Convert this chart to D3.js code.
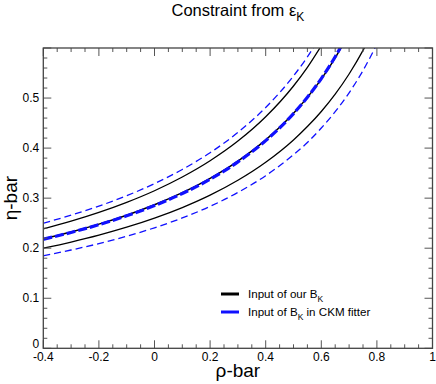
<!DOCTYPE html>
<html><head><meta charset="utf-8">
<script src="https://cdn.jsdelivr.net/npm/d3@7"></script>
<style>body{margin:0;background:#fff}svg{display:block;font-family:"Liberation Sans",Arial,sans-serif}</style>
</head><body>
<svg id="c" width="436" height="384"></svg>
<script>
const rho = [-0.4,-0.3,-0.2,-0.1,0,0.1,0.2,0.3,0.4,0.5,0.55,0.6,0.65,0.7,0.75,0.8];
const blackCenter = [0.2186,0.2324,0.2481,0.2660,0.2867,0.3109,0.3395,0.3740,0.4163,0.4694,0.5013,0.5379,0.5803,0.6299];
const blackUpper  = [0.2386,0.2540,0.2715,0.2916,0.3148,0.3422,0.3747,0.4140,0.4626,0.5241,0.5614,0.6044];
const blackLower  = [0.2000,0.2123,0.2261,0.2419,0.2601,0.2812,0.3060,0.3357,0.3717,0.4163,0.4430,0.4732,0.5079,0.5481,0.5952,0.6511];
const blueCenter  = [0.2180,0.2315,0.2470,0.2648,0.2852,0.3092,0.3378,0.3724,0.4150,0.4690,0.5015,0.5390,0.5825,0.6330];
const blueUpper   = [0.2500,0.2660,0.2841,0.3049,0.3290,0.3573,0.3908,0.4313,0.4812,0.5441,0.5822,0.6260];
const blueLower   = [0.1850,0.1964,0.2092,0.2239,0.2408,0.2605,0.2836,0.3113,0.3449,0.3867,0.4111,0.4401,0.4727,0.5105,0.5549,0.6077];
const xTicks = [-0.4,-0.2,0,0.2,0.4,0.6,0.8,1];
const yTicks = [0,0.1,0.2,0.3,0.4,0.5];

const svg = d3.select("#c");
const L=43.3,R=432.5,T=48,B=348.3;
const x = d3.scaleLinear().domain([-0.4,1]).range([L,R]);
const y = d3.scaleLinear().domain([0,0.6]).range([B,T]);

svg.append("defs").append("clipPath").attr("id","clip")
  .append("rect").attr("x",L).attr("y",T).attr("width",R-L).attr("height",B-T);

const line = d3.line().x(d=>x(d[0])).y(d=>y(d[1])).curve(d3.curveMonotoneX);
const pts = arr => arr.map((v,i)=>[rho[i],v]);
const g = svg.append("g").attr("clip-path","url(#clip)");
const series = [
  {d:blueUpper,c:"#1010ff",w:1.3,dash:"7,4"},
  {d:blueLower,c:"#1010ff",w:1.3,dash:"7,4"},
  {d:blackUpper,c:"#000",w:1.3,dash:null},
  {d:blackLower,c:"#000",w:1.3,dash:null},
  {d:blackCenter,c:"#000",w:1.5,dash:null},
  {d:blueCenter,c:"#1010ff",w:3.2,dash:"9,3"}
];
series.forEach(s=>{
  g.append("path").attr("d",line(pts(s.d))).attr("fill","none")
   .attr("stroke",s.c).attr("stroke-width",s.w).attr("stroke-dasharray",s.dash);
});

const tc="#555";
function ticksX(yPos,dir){
  d3.range(0,29).forEach(i=>{
    const v=-0.4+i*0.05; const major = i%4===0;
    const len = major?8:4;
    svg.append("line").attr("x1",x(v)).attr("x2",x(v)).attr("y1",yPos).attr("y2",yPos+dir*len)
      .attr("stroke",tc).attr("stroke-width",1);
  });
}
function ticksY(xPos,dir){
  d3.range(0,31).forEach(i=>{
    const v=i*0.02; const major = i%5===0;
    const len = major?8:4;
    svg.append("line").attr("x1",xPos).attr("x2",xPos+dir*len).attr("y1",y(v)).attr("y2",y(v))
      .attr("stroke",tc).attr("stroke-width",1);
  });
}
ticksX(B,-1); ticksX(T,1); ticksY(L,1); ticksY(R,-1);
svg.append("rect").attr("x",L).attr("y",T).attr("width",R-L).attr("height",B-T)
  .attr("fill","none").attr("stroke","#444").attr("stroke-width",1.3);

xTicks.forEach(v=>{
  svg.append("text").attr("x",x(v)).attr("y",B+13).attr("text-anchor","middle")
    .attr("font-size",12).text(String(v));
});
yTicks.forEach(v=>{
  svg.append("text").attr("x",L-4).attr("y",v===0?y(v)-0.5:y(v)+4).attr("text-anchor","end")
    .attr("font-size",12).text(String(v));
});

svg.append("text").attr("x",(L+R)/2).attr("y",377).attr("text-anchor","middle")
  .attr("font-size",19).text("ρ-bar");
svg.append("text").attr("transform",`translate(17,${(T+B)/2}) rotate(-90)`).attr("text-anchor","middle")
  .attr("font-size",19).text("η-bar");

const title = svg.append("text").attr("x",(L+R)/2).attr("y",16).attr("text-anchor","middle").attr("font-size",16.5);
title.append("tspan").text("Constraint from ε");
title.append("tspan").attr("dy",5).attr("font-size",12).text("K");

const leg = [{c:"#000",t:"Input of our B",s:"K",r:""},{c:"#1010ff",t:"Input of B",s:"K",r:" in CKM fitter"}];
leg.forEach((l,i)=>{
  const yy = 294+i*18;
  svg.append("line").attr("x1",221).attr("x2",239).attr("y1",yy).attr("y2",yy)
    .attr("stroke",l.c).attr("stroke-width",3);
  const t = svg.append("text").attr("x",248).attr("y",yy+4).attr("font-size",11.6);
  t.append("tspan").text(l.t);
  t.append("tspan").attr("dy",4).attr("font-size",8.5).text(l.s);
  if(l.r) t.append("tspan").attr("dy",-4).text(l.r);
});
</script>
</body></html>
